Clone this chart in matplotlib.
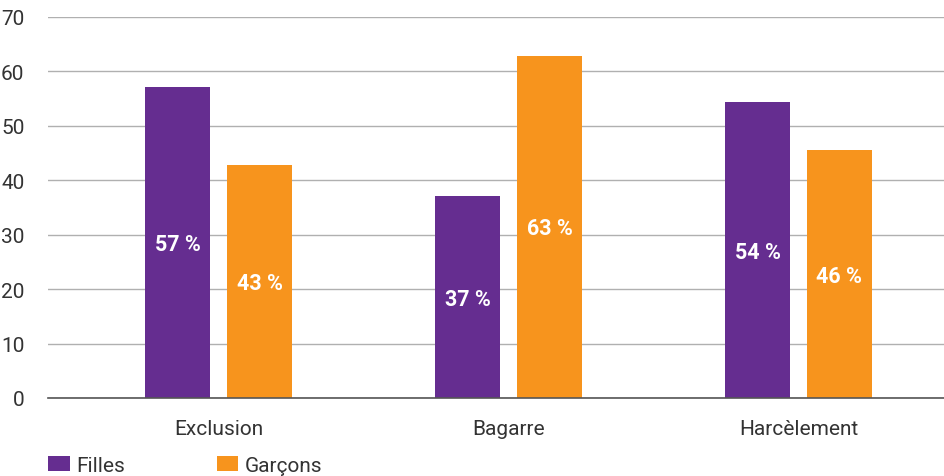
import matplotlib
matplotlib.use("Agg")
import matplotlib.pyplot as plt
import numpy as np

categories = ["Exclusion", "Bagarre", "Harcèlement"]
filles = [57.1, 37.1, 54.4]
garcons = [42.9, 62.9, 45.6]
filles_labels = ["57 %", "37 %", "54 %"]
garcons_labels = ["43 %", "63 %", "46 %"]
yticks = [0, 10, 20, 30, 40, 50, 60, 70]

PURPLE = "#652D90"
ORANGE = "#F7941D"
TEXT = "#333333"

plt.rcParams["font.family"] = ["Roboto", "DejaVu Sans"]

fig = plt.figure(figsize=(9.44, 4.77), dpi=100)
ax = fig.add_axes([48 / 944, 1 - 399 / 477, 1 - 48 / 944, 381 / 477])

x = np.arange(len(categories))
w = 65 / 290
off = 41 / 290
b1 = ax.bar(x - off, filles, width=w, color=PURPLE, label="Filles", zorder=3)
b2 = ax.bar(x + off, garcons, width=w, color=ORANGE, label="Garçons", zorder=3)

for bars, labels in ((b1, filles_labels), (b2, garcons_labels)):
    for rect, lab in zip(bars, labels):
        ax.text(rect.get_x() + rect.get_width() / 2, rect.get_height() / 2 - 0.3, lab,
                ha="center", va="center", color="white", fontsize=15.5,
                fontweight="bold", zorder=4)

ax.set_ylim(0, 70)
ax.set_xlim(-0.588, 2.502)
ax.set_yticks(yticks)
ax.set_xticks(x)
ax.set_xticklabels(categories)
ax.yaxis.grid(True, color="#b0b0b0", linewidth=1, zorder=0)
ax.tick_params(axis="both", length=0, labelsize=15, colors=TEXT)
ax.tick_params(axis="y", pad=17)
ax.tick_params(axis="x", pad=15)
for s in ("top", "right", "left"):
    ax.spines[s].set_visible(False)
ax.spines["bottom"].set_color("#555555")
ax.spines["bottom"].set_linewidth(1.2)
ax.spines["bottom"].set_zorder(5)

fig.legend(loc="lower left", bbox_to_anchor=(48 / 944, 1 / 477), ncol=2, frameon=False,
           fontsize=15, handlelength=1.05, handleheight=0.75, handletextpad=0.3,
           columnspacing=4.4, borderpad=0, borderaxespad=0, labelcolor=TEXT)

fig.savefig("out.png", dpi=100)
